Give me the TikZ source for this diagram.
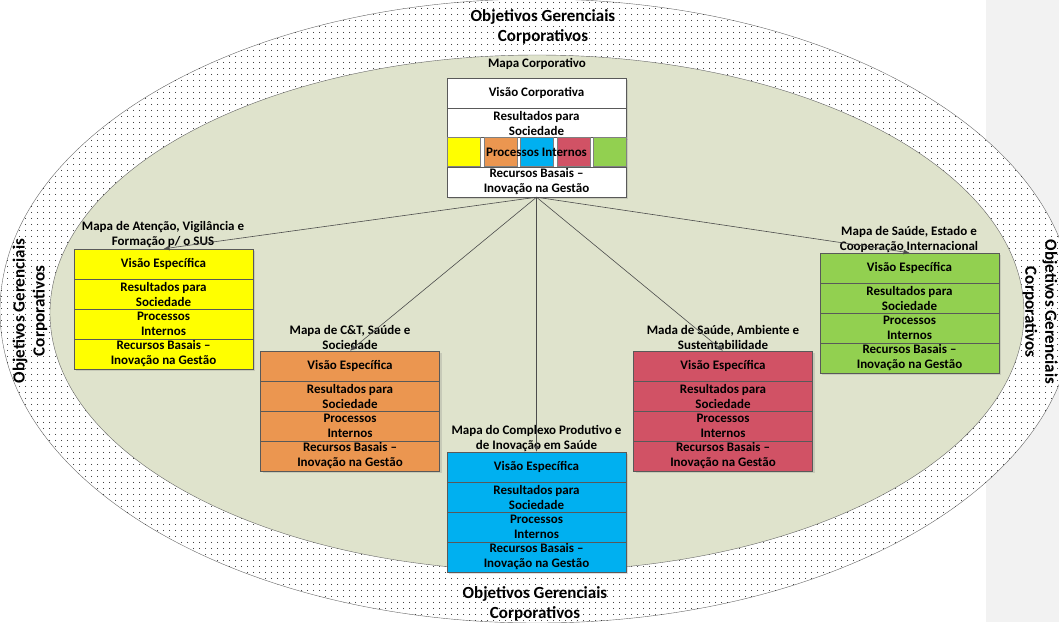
\documentclass[tikz,border=0pt]{standalone}
\usepackage{fontspec}
\setmainfont{Carlito}
\usetikzlibrary{arrows.meta,patterns,shadows}
\definecolor{mapyellow}{RGB}{255,255,0}
\definecolor{maporange}{RGB}{235,150,80}
\definecolor{mapblue}{RGB}{0,176,240}
\definecolor{mapred}{RGB}{209,82,101}
\definecolor{mapgreen}{RGB}{146,208,80}
\definecolor{ellgreen}{RGB}{223,227,204}
\definecolor{stripgrey}{RGB}{242,242,242}
\newcommand*{\mapfont}{\bfseries\fontsize{13}{15}\selectfont}
\newcommand*{\ringfont}{\bfseries\fontsize{17}{20}\selectfont}
\pgfdeclarepatternformonly{ringdots}{\pgfqpoint{0pt}{0pt}}{\pgfqpoint{6pt}{6pt}}{\pgfqpoint{6pt}{6pt}}%
  {\pgfpathcircle{\pgfqpoint{3pt}{3pt}}{0.55pt}\pgfusepath{fill}}
% #1 name, #2 centre x, #3 top y, #4 colour
\newcommand*{\mapa}[4]{%
  \node[row, fill=#4] (#1a) at (#2, #3+15) {Visão Específica};
  \node[row, fill=#4] (#1b) at (#2, #3+45) {Resultados para\\Sociedade};
  \node[row, fill=#4] (#1c) at (#2, #3+75) {Processos\\Internos};
  \node[row, fill=#4] (#1d) at (#2, #3+105) {Recursos Basais --\\Inovação na Gestão};
}

\begin{document}
\begin{tikzpicture}[x=1pt, y=-1pt,
    row/.style={draw=black!65, minimum width=179pt, minimum height=30pt, inner sep=0pt,
      align=center, font=\mapfont,
      drop shadow={shadow xshift=2pt, shadow yshift=-2pt, opacity=0.25}},
    caption/.style={align=center, font=\mapfont, inner sep=0pt},
    ring/.style={align=center, font=\ringfont, inner sep=0pt},
    link/.style={draw=black!70, line width=0.6pt, -{Latex[length=6pt, width=5pt]}}]
  \useasboundingbox (0,0) rectangle (1059,622);
  \fill[stripgrey] (986,0) rectangle (1059,622);

  \draw[black!60, fill=white, postaction={pattern=ringdots}] (537,311) ellipse [x radius=537, y radius=312];
  \draw[black!60, fill=ellgreen] (537,313) ellipse [x radius=487, y radius=258];

  \node[ring] (rtop) at (543,27) {Objetivos Gerenciais\\Corporativos};
  \node[ring] (rbot) at (535,604) {Objetivos Gerenciais\\Corporativos};
  \node[ring, rotate=90] (rleft) at (30,311) {Objetivos Gerenciais\\Corporativos};
  \node[ring, rotate=-90] (rright) at (1040,312) {Objetivos Gerenciais\\Corporativos};

  \node[caption] (corpcap) at (537,64) {Mapa Corporativo};
  \node[row, fill=white] (corpv) at (536.5,93) {Visão Corporativa};
  \node[row, fill=white] (corpres) at (536.5,123) {Resultados para\\Sociedade};
  \node[row, fill=white] (corpp) at (536.5,152) {};
  \foreach \c [count=\i from 0] in {mapyellow,maporange,mapblue,mapred,mapgreen}
  {
    \node[draw=black!50, fill=\c, minimum width=33pt, minimum height=29pt, inner sep=0pt, anchor=west] (sq\i) at (447+\i*36.5,152) {};
  }
  \node[caption] (corpptxt) at (536.5,152) {Processos Internos};
  \node[row, fill=white] (corpr) at (536.5,182) {Recursos Basais --\\Inovação na Gestão};

  \mapa{yel}{163.5}{249}{mapyellow}
  \mapa{ora}{350}{351}{maporange}
  \mapa{blu}{536.5}{452}{mapblue}
  \mapa{red}{723}{351}{mapred}
  \mapa{gre}{909.5}{253}{mapgreen}

  \node[caption] (capyel) at (163,235) {Mapa de Atenção, Vigilância e\\Formação p/ o SUS};
  \node[caption] (capora) at (350,337) {Mapa de C\&T, Saúde e\\Sociedade};
  \node[caption] (capblu) at (536.5,439) {Mapa do Complexo Produtivo e\\de Inovação em Saúde};
  \node[caption] (capred) at (723,337) {Mada de Saúde, Ambiente e\\Sustentabilidade};
  \node[caption] (capgre) at (909,240) {Mapa de Saúde, Estado e\\Cooperação Internacional};

  \foreach \m in {yel,ora,blu,red,gre}
  {
    \draw[link] (corpr.south) -- (\m a.north);
  }
\end{tikzpicture}
\end{document}
